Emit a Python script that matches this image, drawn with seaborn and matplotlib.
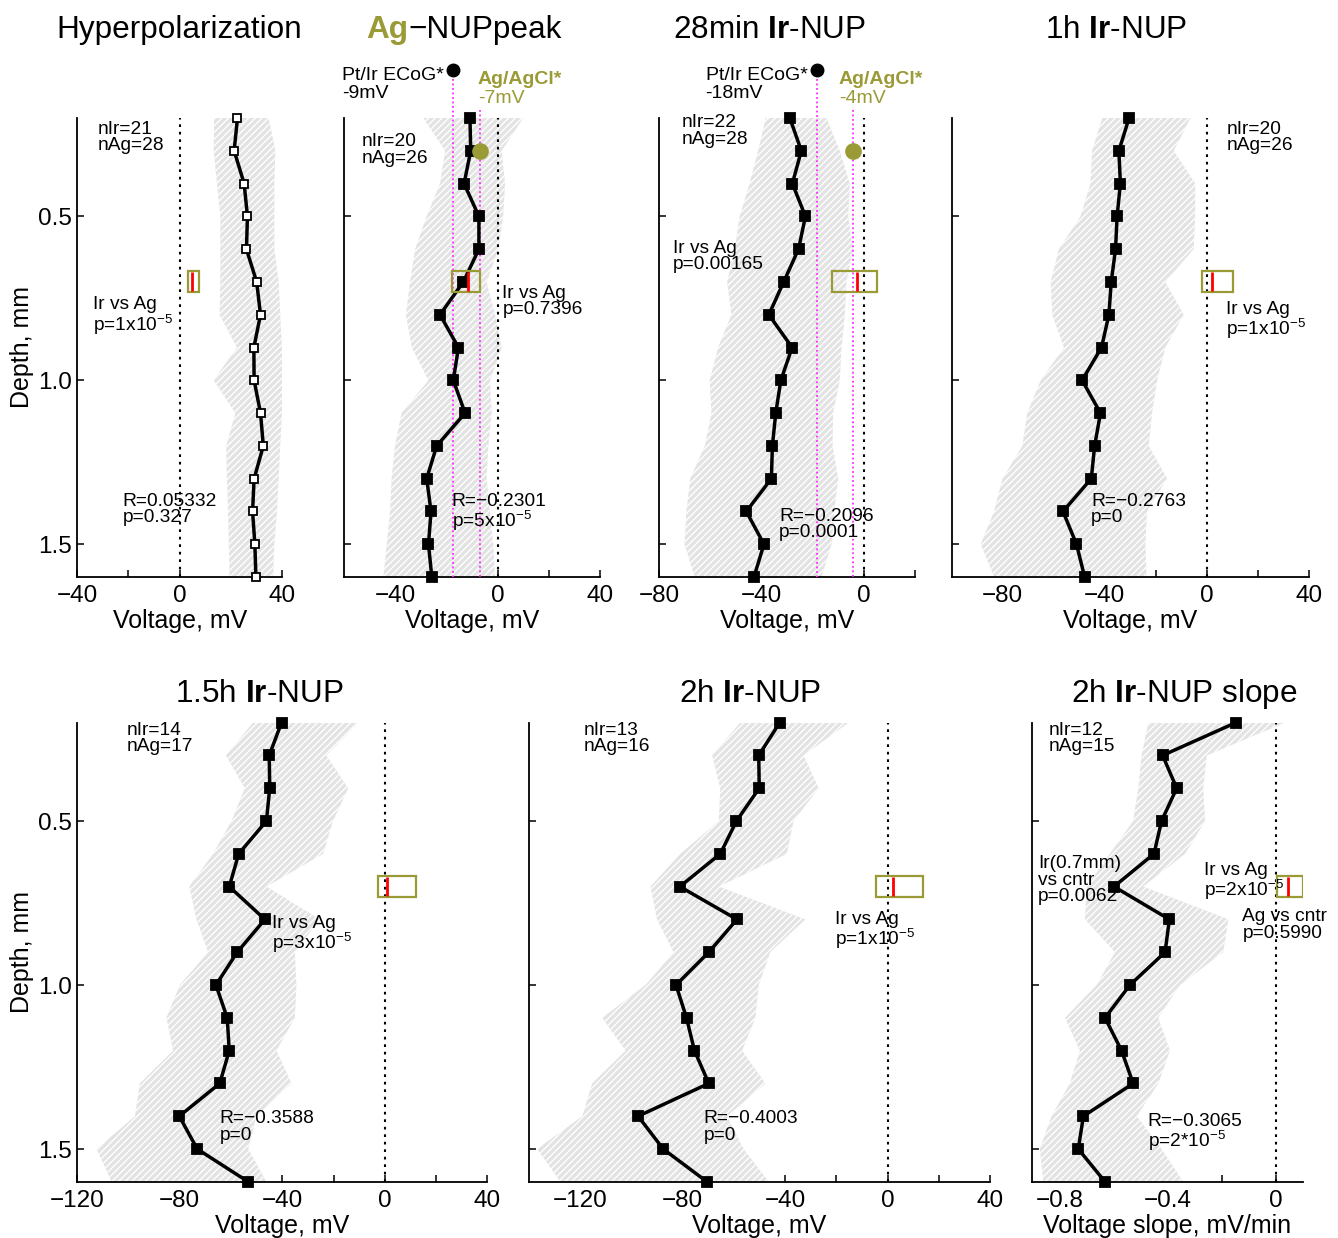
import matplotlib
matplotlib.use("Agg")
import matplotlib.pyplot as plt
import seaborn as sns
import pandas as pd
from matplotlib.patches import Rectangle

sns.set_style("ticks")
plt.rcParams['font.family'] = ['Liberation Sans', 'DejaVu Sans']
plt.rcParams['mathtext.fontset'] = 'custom'
plt.rcParams['mathtext.rm'] = 'Liberation Sans'
plt.rcParams['mathtext.it'] = 'Liberation Sans:italic'
plt.rcParams['mathtext.bf'] = 'Liberation Sans:bold'
plt.rcParams['hatch.color'] = 'white'
plt.rcParams['hatch.linewidth'] = 1.0
for k in ('text.color', 'axes.labelcolor', 'xtick.color', 'ytick.color', 'axes.edgecolor'):
    plt.rcParams[k] = 'black'

# ---------------- data ----------------
depth = [0.2, 0.3, 0.4, 0.5, 0.6, 0.7, 0.8, 0.9, 1.0, 1.1, 1.2, 1.3, 1.4, 1.5, 1.6]

hyper_mean = [22.6, 21.3, 25.2, 26.5, 26.1, 30.1, 31.6, 29.0, 29.1, 31.6, 32.7, 29.1, 28.5, 29.4, 29.8]
hyper_lo = [13.5, 13.3, 14.6, 15.9, 15.9, 15.9, 15.6, 22.4, 13.3, 21.8, 18.2, 18.5, 18.9, 19.2, 19.5]
hyper_hi = [34.8, 37.4, 37.0, 37.0, 37.0, 38.7, 39.3, 40.0, 40.0, 40.0, 39.3, 38.7, 38.0, 37.0, 36.5]

peak_mean = [-10.8, -10.5, -13.1, -7.3, -7.3, -13.4, -22.5, -15.3, -17.3, -12.7, -23.8, -27.7, -26.0, -27.0, -25.7]
peak_lo = [-29.0, -20.5, -22.5, -27.7, -32.2, -34.2, -35.8, -33.5, -27.0, -37.5, -40.1, -41.4, -42.0, -43.3, -44.6]
peak_hi = [10.0, 1.6, 2.9, 2.2, 0.3, -4.3, -1.0, 1.6, -3.0, -2.3, -3.6, -4.3, -3.0, -1.7, -1.0]

min28_mean = [-28.9, -24.4, -27.9, -22.8, -25.5, -31.3, -37.1, -28.0, -32.4, -34.4, -35.7, -36.1, -45.9, -39.0, -42.9]
min28_lo = [-38.3, -41.3, -44.6, -48.5, -50.4, -53.4, -51.7, -56.9, -60.2, -59.5, -62.1, -67.8, -69.3, -70.0, -66.0]
min28_hi = [-14.6, -9.4, -5.5, -6.1, -4.2, -6.8, -7.4, -8.7, -9.4, -12.0, -12.2, -10.0, -11.6, -12.6, -16.5]

h1_mean = [-30.5, -34.5, -33.9, -35.2, -35.8, -37.5, -38.4, -41.3, -48.9, -41.7, -44.0, -45.3, -56.4, -51.1, -47.9]
h1_lo = [-41.0, -45.0, -45.6, -49.5, -58.0, -61.2, -60.6, -56.0, -65.1, -70.4, -72.3, -80.1, -83.4, -88.6, -83.4]
h1_hi = [-6.5, -13.0, -4.6, -4.6, -5.2, -16.3, -9.1, -16.3, -19.5, -21.5, -22.8, -15.6, -23.5, -24.1, -23.7]

h15_mean = [-40.3, -45.1, -44.9, -46.2, -57.0, -60.7, -46.8, -57.6, -65.9, -61.5, -60.7, -64.4, -80.2, -73.2, -53.3]
h15_lo = [-51.4, -62.0, -54.6, -59.8, -67.0, -76.3, -73.5, -68.9, -80.0, -85.2, -82.6, -95.6, -97.5, -112.5, -106.6]
h15_hi = [-10.4, -22.8, -14.3, -20.2, -24.1, -46.2, -25.4, -35.1, -34.5, -35.1, -42.3, -36.4, -50.1, -53.3, -46.2]

h2_mean = [-42.1, -50.3, -50.1, -59.0, -65.3, -81.1, -58.8, -69.8, -82.6, -78.5, -75.4, -69.8, -97.4, -87.6, -70.5]
h2_lo = [-57.5, -68.5, -65.3, -65.9, -80.9, -92.6, -90.0, -83.5, -94.5, -111.4, -102.3, -115.3, -119.2, -136.8, -127.7]
h2_hi = [-15.2, -32.8, -26.9, -36.7, -39.3, -65.9, -32.1, -45.8, -50.3, -51.6, -56.8, -47.7, -62.7, -56.2, -46.4]

slope_mean = [-0.147, -0.418, -0.366, -0.422, -0.450, -0.598, -0.393, -0.409, -0.539, -0.631, -0.570, -0.527, -0.711, -0.730, -0.631]
slope_lo = [-0.471, -0.496, -0.508, -0.527, -0.613, -0.699, -0.705, -0.594, -0.662, -0.779, -0.724, -0.761, -0.829, -0.872, -0.859]
slope_hi = [0.035, -0.255, -0.268, -0.261, -0.335, -0.490, -0.175, -0.194, -0.354, -0.434, -0.391, -0.434, -0.514, -0.422, -0.342]

# Ag group box (lo, hi, median) at 0.7 mm
box_lo = [3.1, -17.7, -12.6, -2.0, -2.6, -4.6, 0.006]
box_hi = [7.6, -6.9, 5.0, 10.4, 12.1, 14.0, 0.100]
box_med = [4.8, -11.7, -2.7, 2.0, 1.0, 2.3, 0.044]

# reference electrodes (panels 2 and 3)
ecog_mV = [-17.6, -18.1]
agcl_mV = [-6.9, -4.2]
ecog_text = ["-9mV", "-18mV"]
agcl_text = ["-7mV", "-4mV"]

titles = ["Hyperpolarization", None, "28min $\\mathbf{Ir}$-NUP", "1h $\\mathbf{Ir}$-NUP",
          "1.5h $\\mathbf{Ir}$-NUP", "2h $\\mathbf{Ir}$-NUP", "2h $\\mathbf{Ir}$-NUP slope"]

stats_text = [
    ["nIr=21\nnAg=28", "Ir vs Ag\np=1x10$^{-5}$", "R=0.05332\np=0.327"],
    ["nIr=20\nnAg=26", "Ir vs Ag\np=0.7396", "R=\u22120.2301\np=5x10$^{-5}$"],
    ["nIr=22\nnAg=28", "Ir vs Ag\np=0.00165", "R=\u22120.2096\np=0.0001"],
    ["nIr=20\nnAg=26", "Ir vs Ag\np=1x10$^{-5}$", "R=\u22120.2763\np=0"],
    ["nIr=14\nnAg=17", "Ir vs Ag\np=3x10$^{-5}$", "R=\u22120.3588\np=0"],
    ["nIr=13\nnAg=16", "Ir vs Ag\np=1x10$^{-5}$", "R=\u22120.4003\np=0"],
    ["nIr=12\nnAg=15", "Ir(0.7mm)\nvs cntr\np=0.0062", "Ir vs Ag\np=2x10$^{-5}$",
     "Ag vs cntr\np=0.5990", "R=\u22120.3065\np=2*10$^{-5}$"],
]

# ---------------- layout / style ----------------
W, H = 1338, 1238
OLIVE = '#9a9a36'
MAG = '#ff2bff'
fig = plt.figure(figsize=(W / 100, H / 100), dpi=100)

# pixel rects: left, top, width, height
rects = [(77.3, 118, 204.7, 459), (344, 118, 256, 459), (659, 118, 256, 459), (951.7, 118, 357.3, 459),
         (77.3, 722.6, 410, 459.2), (529, 722.6, 461, 459.2), (1032.3, 722.6, 270.4, 459.2)]
series = [(hyper_mean, hyper_lo, hyper_hi), (peak_mean, peak_lo, peak_hi),
          (min28_mean, min28_lo, min28_hi), (h1_mean, h1_lo, h1_hi),
          (h15_mean, h15_lo, h15_hi), (h2_mean, h2_lo, h2_hi),
          (slope_mean, slope_lo, slope_hi)]
xlims = [(-40, 40), (-60, 40), (-80, 20), (-100, 40), (-120, 40), (-140, 40), (-0.9, 0.1)]
xticks = [[-40, -20, 0, 20, 40], [-40, -20, 0, 20, 40], [-80, -60, -40, -20, 0, 20],
          [-80, -60, -40, -20, 0, 20, 40], [-120, -100, -80, -60, -40, -20, 0, 20, 40],
          [-120, -100, -80, -60, -40, -20, 0, 20, 40], [-0.8, -0.6, -0.4, -0.2, 0]]
xticklabels = [['\u221240', '', '0', '', '40'], ['\u221240', '', '0', '', '40'],
               ['\u221280', '', '\u221240', '', '0', ''],
               ['\u221280', '', '\u221240', '', '0', '', '40'],
               ['\u2212120', '', '\u221280', '', '\u221240', '', '0', '', '40'],
               ['\u2212120', '', '\u221280', '', '\u221240', '', '0', '', '40'],
               ['\u22120.8', '', '\u22120.4', '', '0']]
xlabels = ['Voltage, mV'] * 6 + ['Voltage slope, mV/min']
text_pos = [
    [(-32.1, 0.22), (-33.7, 0.755), (-22.4, 1.355)],
    [(-53.0, 0.258), (1.9, 0.72), (-17.9, 1.355)],
    [(-71.3, 0.20), (-74.5, 0.583), (-33.1, 1.40)],
    [(7.6, 0.22), (7.6, 0.77), (-45.3, 1.355)],
    [(-100.8, 0.208), (-44.2, 0.797), (-64.4, 1.393)],
    [(-118.6, 0.208), (-20.4, 0.786), (-71.8, 1.393)],
    [(-0.841, 0.208), (-0.878, 0.616), (-0.264, 0.635), (-0.123, 0.777), (-0.473, 1.40)],
]
title_pos = [(179, 38), None, (769, 38), (1116, 38), (259, 702), (750, 702), (1184, 702)]

axes = []
for i, (l, t, w, h) in enumerate(rects):
    ax = fig.add_axes([l / W, 1 - (t + h) / H, w / W, h / H])
    axes.append(ax)
    mean, lo, hi = series[i]
    ax.fill_betweenx(depth, lo, hi, facecolor='#e3e3e3', edgecolor='white', linewidth=0,
                     hatch='/////', zorder=1)
    ax.axvline(0, color='k', ls=(0, (1.3, 2.3)), lw=1.5, zorder=2)
    df = pd.DataFrame({'depth': depth, 'v': mean})
    sns.lineplot(data=df, x='v', y='depth', orient='y', ax=ax, color='k', lw=2.5,
                 marker='s', markersize=6.5 if i else 6, markeredgecolor='k',
                 markerfacecolor='white' if i == 0 else 'k', markeredgewidth=1.3,
                 clip_on=False, zorder=4, errorbar=None)
    # Ag box at 0.7 mm
    ax.add_patch(Rectangle((box_lo[i], 0.668), box_hi[i] - box_lo[i], 0.063, fill=False,
                           edgecolor=OLIVE, lw=1.6, zorder=5))
    ax.vlines(box_med[i], 0.671, 0.728, color='red', lw=2.0, zorder=6)

    ax.set_xlim(*xlims[i])
    ax.set_ylim(1.6, 0.2)
    ax.set_xticks(xticks[i])
    ax.set_xticklabels(xticklabels[i])
    ax.set_yticks([0.5, 1.0, 1.5])
    if i in (0, 4):
        ax.set_yticklabels(['0.5', '1.0', '1.5'])
        ax.set_ylabel('Depth, mm', fontsize=18, labelpad=3)
    else:
        ax.set_yticklabels([])
        ax.set_ylabel('')
    ax.set_xlabel(xlabels[i], fontsize=18, labelpad=1.2)
    ax.tick_params(direction='in', length=5, width=1.1, labelsize=17.5, color='k',
                   labelcolor='k')
    ax.tick_params(axis='x', pad=6)
    ax.tick_params(axis='y', pad=4)
    sns.despine(ax=ax)
    for s in ('left', 'bottom'):
        ax.spines[s].set_linewidth(1.3)
        ax.spines[s].set_color('k')
    ax.patch.set_alpha(0)

    for (x, y), s in zip(text_pos[i], stats_text[i]):
        ax.text(x, y - 0.011, s, fontsize=13.8, va='top', ha='left', linespacing=0.95,
                color='k', zorder=7)

# reference electrodes in panels 2 and 3
ecog_xtext = [-60.8, -61.8]
agcl_xtext = [-7.7, -9.8]
for j, ax in enumerate([axes[1], axes[2]]):
    ax.vlines(ecog_mV[j], 0.053, 1.6, colors=MAG, linestyles=(0, (1, 1.5)), lw=1.3,
              clip_on=False, zorder=3)
    ax.vlines(agcl_mV[j], 0.175, 1.6, colors=MAG, linestyles=(0, (1, 1.5)), lw=1.3,
              clip_on=False, zorder=3)
    ax.plot([ecog_mV[j]], [0.053], 'o', color='k', ms=9, clip_on=False, zorder=8)
    ax.plot([agcl_mV[j]], [0.3], 'o', color=OLIVE, ms=11, clip_on=False, zorder=8)
    ax.text(ecog_xtext[j], 0.083, 'Pt/Ir ECoG*', fontsize=14, va='baseline', ha='left', color='k')
    ax.text(ecog_xtext[j], 0.139, ecog_text[j], fontsize=14, va='baseline', ha='left', color='k')
    ax.text(agcl_xtext[j], 0.097, 'Ag/AgCl*', fontsize=14, va='baseline', ha='left',
            color=OLIVE, fontweight='bold')
    ax.text(agcl_xtext[j], 0.155, agcl_text[j], fontsize=14, va='baseline', ha='left',
            color=OLIVE)

# titles
TS = 22.7
for i, tp in enumerate(title_pos):
    if tp is None:
        continue
    fig.text(tp[0] / W, 1 - tp[1] / H, titles[i], fontsize=TS, ha='center', va='baseline',
             color='k')

# mixed-colour title for panel 2
renderer = fig.canvas.get_renderer()
pieces = [("Ag", OLIVE, 'bold'), ("\u2212NUPpeak", 'k', 'normal')]
objs = [fig.text(0, 1 - 38 / H, s, color=c, fontweight=wt, fontsize=TS, va='baseline', ha='left')
        for s, c, wt in pieces]
widths = [o.get_window_extent(renderer).width for o in objs]
x0 = 464 - sum(widths) / 2
for o, wdt in zip(objs, widths):
    o.set_x(x0 / W)
    x0 += wdt

fig.savefig('out.png', dpi=100, facecolor='white')
